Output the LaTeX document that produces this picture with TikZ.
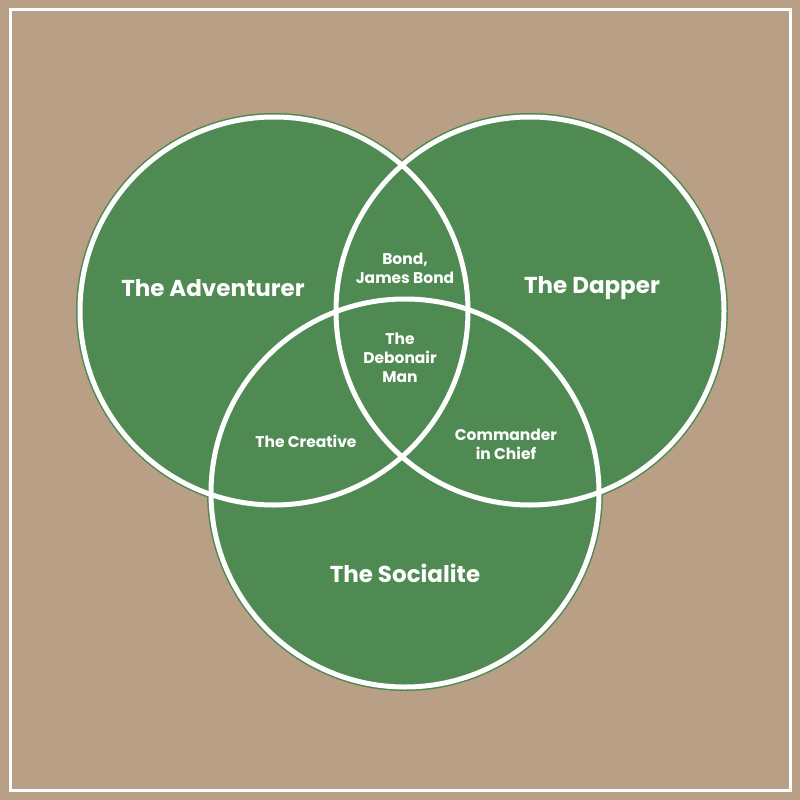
\documentclass[tikz,border=0pt]{standalone}
\usepackage{fontspec}
\setmainfont{Poppins}
\definecolor{tan}{HTML}{B89F86}
\definecolor{leaf}{HTML}{4E8A52}
\begin{document}
\begin{tikzpicture}[x=1pt,y=-1pt,
  ring/.style={draw=white,line width=5pt},
  edge/.style={draw=leaf,line width=8pt},
  big/.style={text=white,font=\bfseries\fontsize{23}{26}\selectfont,align=center},
  small/.style={text=white,font=\bfseries\fontsize{15.5}{19}\selectfont,align=center}]
  \fill[tan] (0,0) rectangle (800,800);
  \draw[white,line width=3pt] (10,10) rectangle (790,790);
  % circles
  \foreach \cx/\cy/\r in {274/311/194,530/311/194,405/493/194}
    \draw[edge,fill=leaf] (\cx,\cy) circle (\r);
  \foreach \cx/\cy/\r in {274/311/194,530/311/194,405/493/194}
    \draw[ring] (\cx,\cy) circle (\r);

  \node[big] (adv) at (213,288) {The Adventurer};
  \node[big] (dap) at (592,288) {The Dapper};
  \node[big] (soc) at (405,573) {The Socialite};
  \node[small] (bond) at (405,268) {Bond,\\James Bond};
  \node[small] (deb) at (400,358) {The\\Debonair\\Man};
  \node[small] (cre) at (306,441) {The Creative};
  \node[small] (cmd) at (506,444) {Commander\\in Chief};
\end{tikzpicture}
\end{document}
